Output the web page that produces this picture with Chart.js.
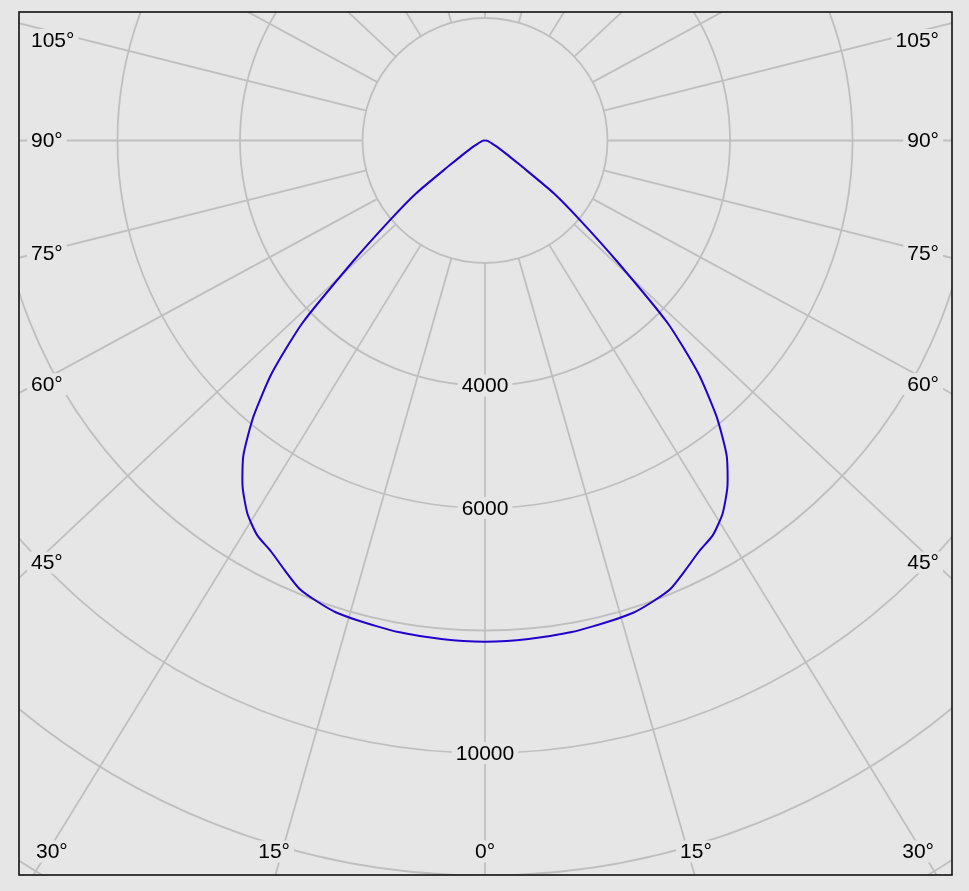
<!DOCTYPE html>
<html>
<head>
<meta charset="utf-8">
<script src="https://cdn.jsdelivr.net/npm/chart.js@4.4.0/dist/chart.umd.min.js"></script>
<style>
  html, body { margin: 0; padding: 0; background: #e6e6e6; }
  canvas { display: block; }
</style>
</head>
<body>
<canvas id="polar" width="969" height="891"></canvas>
<script>
// gamma angle from nadir (deg) and luminous intensity (cd)
const gammaAngles = [0, 2.5, 5, 7.5, 10, 12.5, 15, 17.5, 20, 22.5, 25, 27.5, 30, 32.5, 35, 37.5,
                     40, 42.5, 45, 47.5, 50, 52.5, 55, 57.5, 60, 62.5, 65, 70, 75, 80, 85, 90];
const intensity = [8185, 8180, 8170, 8160, 8150, 8125, 8105, 8080, 8010, 7920, 7740, 7565, 7440, 7220, 6900, 6480,
                   5880, 5150, 4220, 2930, 2040, 1420, 700, 430, 290, 210, 150, 95, 65, 40, 18, 0];

// polar grid
const ringValues = [2000, 4000, 6000, 8000, 10000, 12000, 14000];
const ringLabels = [4000, 6000, 10000];
const spokeAngles = [0, 15, 30, 45, 60, 75, 90, 105, 120, 135, 150, 165, 180];
const angleLabels = [0, 15, 30, 45, 60, 75, 90, 105];

// visible window in cd (center of the diagram is 0,0)
const X_MIN = -7608, X_MAX = 7624;
const Y_MIN = -11992, Y_MAX = 2098;

const BG = '#e6e6e6';
const GRID = '#bfbfbf';
const SPOKE_STRETCH = 1.065; // the spokes of the original lean slightly outwards
const FONT = '21px "Liberation Sans", Arial, sans-serif';

const rad = d => d * Math.PI / 180;

// build the curve: left half (C180) then right half (C0)
const curve = [];
for (let i = gammaAngles.length - 1; i >= 0; i--) {
    curve.push({ x: -intensity[i] * Math.sin(rad(gammaAngles[i])), y: -intensity[i] * Math.cos(rad(gammaAngles[i])) });
}
for (let i = 1; i < gammaAngles.length; i++) {
    curve.push({ x: intensity[i] * Math.sin(rad(gammaAngles[i])), y: -intensity[i] * Math.cos(rad(gammaAngles[i])) });
}

function labelBox(ctx, text, x, y) {
    const w = ctx.measureText(text).width;
    ctx.fillStyle = BG;
    ctx.fillRect(x - w / 2 - 4, y - 11, w + 8, 22);
    ctx.fillStyle = '#000';
    ctx.fillText(text, x, y + 1);
}

const polarGrid = {
    id: 'polarGrid',
    beforeDraw(chart) {
        const ctx = chart.ctx;
        ctx.save();
        ctx.fillStyle = BG;
        ctx.fillRect(0, 0, chart.width, chart.height);
        ctx.restore();
    },
    beforeDatasetsDraw(chart) {
        const ctx = chart.ctx;
        const area = chart.chartArea;
        const sx = chart.scales.x, sy = chart.scales.y;
        const cx = sx.getPixelForValue(0), cy = sy.getPixelForValue(0);
        const unit = (sx.getPixelForValue(1000) - cx) / 1000; // px per cd

        ctx.save();
        ctx.beginPath();
        ctx.rect(area.left, area.top, area.right - area.left, area.bottom - area.top);
        ctx.clip();
        ctx.strokeStyle = GRID;
        ctx.lineWidth = 1.8;

        // rings
        ringValues.forEach(v => {
            ctx.beginPath();
            ctx.arc(cx, cy, v * unit, 0, Math.PI * 2);
            ctx.stroke();
        });

        // spokes, starting at the first ring
        const r0 = ringValues[0] * unit;
        spokeAngles.forEach(a => {
            const sides = (a === 0 || a === 180) ? [1] : [-1, 1];
            sides.forEach(s => {
                let dx = s * SPOKE_STRETCH * Math.sin(rad(a)), dy = Math.cos(rad(a));
                const len = Math.hypot(dx, dy);
                dx /= len; dy /= len;
                ctx.beginPath();
                ctx.moveTo(cx + dx * r0, cy + dy * r0);
                ctx.lineTo(cx + dx * 2000, cy + dy * 2000);
                ctx.stroke();
            });
        });

        ctx.font = FONT;
        ctx.textAlign = 'center';
        ctx.textBaseline = 'middle';

        // radial value labels along the 0° spoke
        ringLabels.forEach(v => labelBox(ctx, String(v), cx, cy + v * unit));

        // angle labels along the frame
        const bottomY = area.bottom - 23.5;
        angleLabels.forEach(a => {
            const text = a + '°';
            const w = ctx.measureText(text).width;
            const sides = a === 0 ? [1] : [-1, 1];
            sides.forEach(s => {
                let x, y;
                if (a <= 30) {
                    y = bottomY;
                    x = cx + s * ((y - cy) * SPOKE_STRETCH * Math.tan(rad(a)) + (a > 0 ? 8 : 0));
                    x = Math.max(area.left + 17 + w / 2, Math.min(area.right - 18 - w / 2, x));
                } else {
                    x = s > 0 ? area.right - 13 - w / 2 : area.left + 12 + w / 2;
                    y = cy + 422 / Math.tan(rad(a));
                    y = Math.max(area.top + 28, y);
                }
                labelBox(ctx, text, x, y);
            });
        });
        ctx.restore();
    },
    afterDraw(chart) {
        const ctx = chart.ctx;
        const area = chart.chartArea;
        ctx.save();
        ctx.strokeStyle = '#111';
        ctx.lineWidth = 1.6;
        ctx.strokeRect(area.left, area.top, area.right - area.left, area.bottom - area.top);
        ctx.restore();
    }
};

new Chart(document.getElementById('polar'), {
    type: 'scatter',
    data: {
        datasets: [{
            label: 'C0-C180',
            data: curve,
            showLine: true,
            borderColor: '#2000cc',
            borderWidth: 2,
            pointRadius: 0,
            tension: 0.2,
            fill: false
        }]
    },
    options: {
        responsive: false,
        animation: false,
        devicePixelRatio: 1,
        layout: { padding: { left: 19, top: 12, right: 17, bottom: 16 } },
        scales: {
            x: { type: 'linear', min: X_MIN, max: X_MAX, display: false },
            y: { type: 'linear', min: Y_MIN, max: Y_MAX, display: false }
        },
        plugins: {
            legend: { display: false },
            tooltip: { enabled: false }
        }
    },
    plugins: [polarGrid]
});
</script>
</body>
</html>
